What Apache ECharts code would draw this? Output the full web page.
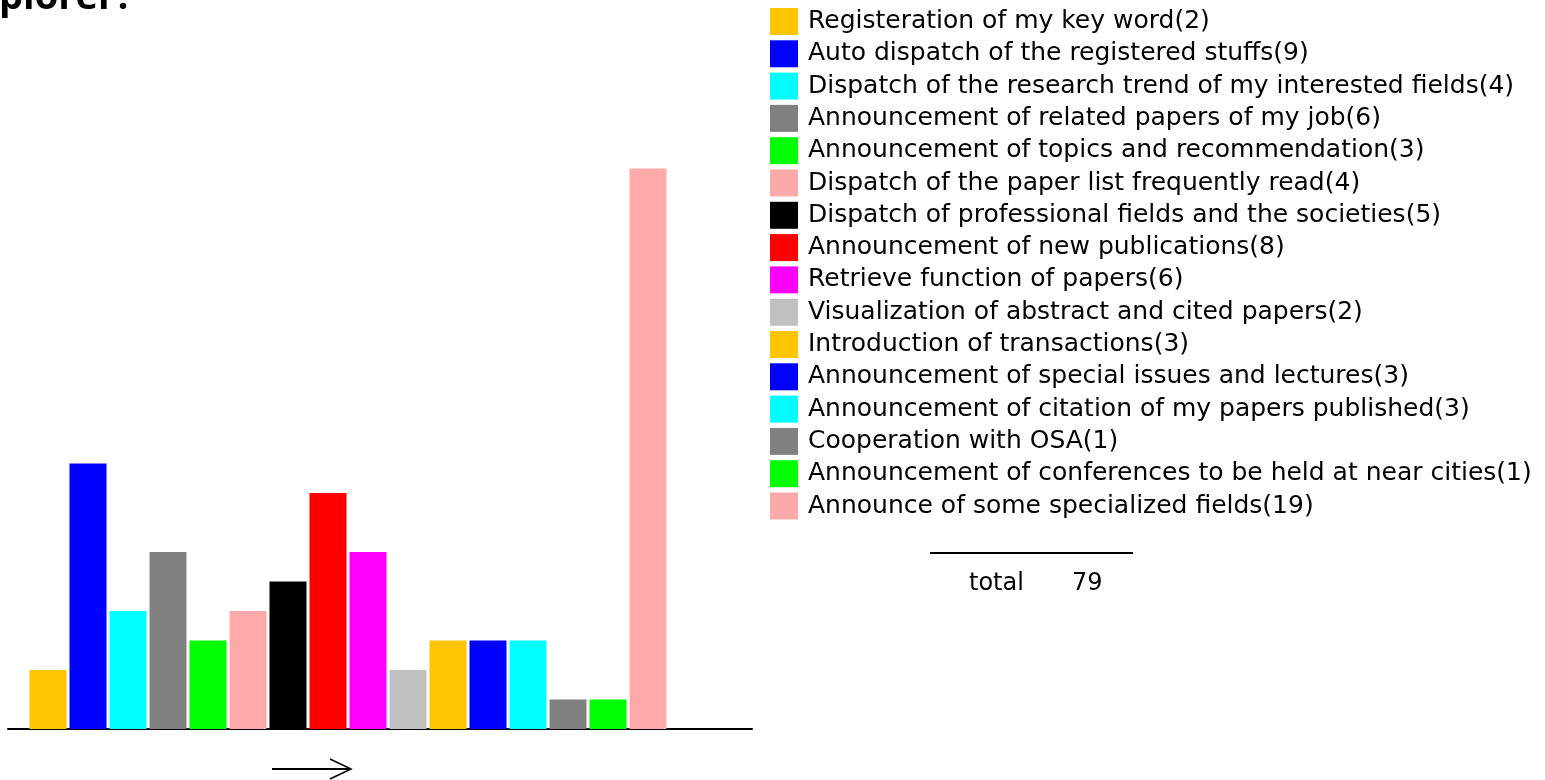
<!DOCTYPE html>
<html>
<head>
<meta charset="utf-8">
<script src="https://cdn.jsdelivr.net/npm/echarts@6/dist/echarts.min.js"></script>
<style>html,body{margin:0;padding:0;background:#fff;}#c{width:1545px;height:780px;}</style>
</head>
<body>
<div id="c"></div>
<script>
const categories = [
  "Registeration of my key word",
  "Auto dispatch of the registered stuffs",
  "Dispatch of the research trend of my interested fields",
  "Announcement of related papers of my job",
  "Announcement of topics and recommendation",
  "Dispatch of the paper list frequently read",
  "Dispatch of professional fields and the societies",
  "Announcement of new publications",
  "Retrieve function of papers",
  "Visualization of abstract and cited papers",
  "Introduction of transactions",
  "Announcement of special issues and lectures",
  "Announcement of citation of my papers published",
  "Cooperation with OSA",
  "Announcement of conferences to be held at near cities",
  "Announce of some specialized fields"
];
const values = [2, 9, 4, 6, 3, 4, 5, 8, 6, 2, 3, 3, 3, 1, 1, 19];
const colors = ["#FFC600", "#0000FF", "#00FFFF", "#808080", "#00FF00", "#FFAAAA", "#000000", "#FF0000",
                "#FF00FF", "#C0C0C0", "#FFC600", "#0000FF", "#00FFFF", "#808080", "#00FF00", "#FFAAAA"];
const titleText = "plorer?";

const total = values.reduce((a, b) => a + b, 0);
const FONT = "DejaVu Sans";

const series = categories.map((name, i) => ({
  type: 'bar',
  name: name + '(' + values[i] + ')',
  data: [[i + 1, values[i]]],
  barWidth: 37,
  barGap: '-100%',
  itemStyle: { color: colors[i] },
  silent: true,
  animation: false
}));

const chart = echarts.init(document.getElementById('c'), null, { renderer: 'canvas' });
chart.setOption({
  backgroundColor: '#fff',
  animation: false,
  title: {
    text: titleText,
    left: -6,
    top: -26,
    textStyle: { fontFamily: 'Open Sans', fontWeight: 'bold', fontSize: 38, color: '#000' }
  },
  grid: { left: 8, right: 793, top: 139, bottom: 51 },
  xAxis: {
    type: 'value', min: 0, max: 18.6,
    axisLine: { show: true, onZero: true, lineStyle: { color: '#000', width: 2 } },
    axisTick: { show: false }, axisLabel: { show: false }, splitLine: { show: false }
  },
  yAxis: {
    type: 'value', min: 0, max: 20,
    show: false, splitLine: { show: false }
  },
  legend: {
    orient: 'vertical',
    left: 770, top: 8,
    padding: 0,
    icon: 'rect',
    itemWidth: 28, itemHeight: 27, itemGap: 5.3,
    textStyle: { fontFamily: FONT, fontSize: 25, color: '#000', lineHeight: 27, padding: [0, 0, 0, 5] },
    selectedMode: false
  },
  series: series,
  graphic: [
    { type: 'line', shape: { x1: 930, y1: 553, x2: 1133, y2: 553 }, style: { stroke: '#000', lineWidth: 2 } },
    { type: 'text', left: 969, top: 572, style: { text: 'total', fontFamily: FONT, fontSize: 24, fill: '#000' } },
    { type: 'text', left: 1072, top: 572, style: { text: String(total), fontFamily: FONT, fontSize: 24, fill: '#000' } },
    { type: 'line', shape: { x1: 272, y1: 769, x2: 351, y2: 769 }, style: { stroke: '#000', lineWidth: 2 } },
    { type: 'polyline', shape: { points: [[330, 759], [351, 769], [330, 779]] }, style: { stroke: '#000', lineWidth: 1.5, fill: null } }
  ]
});
</script>
</body>
</html>
